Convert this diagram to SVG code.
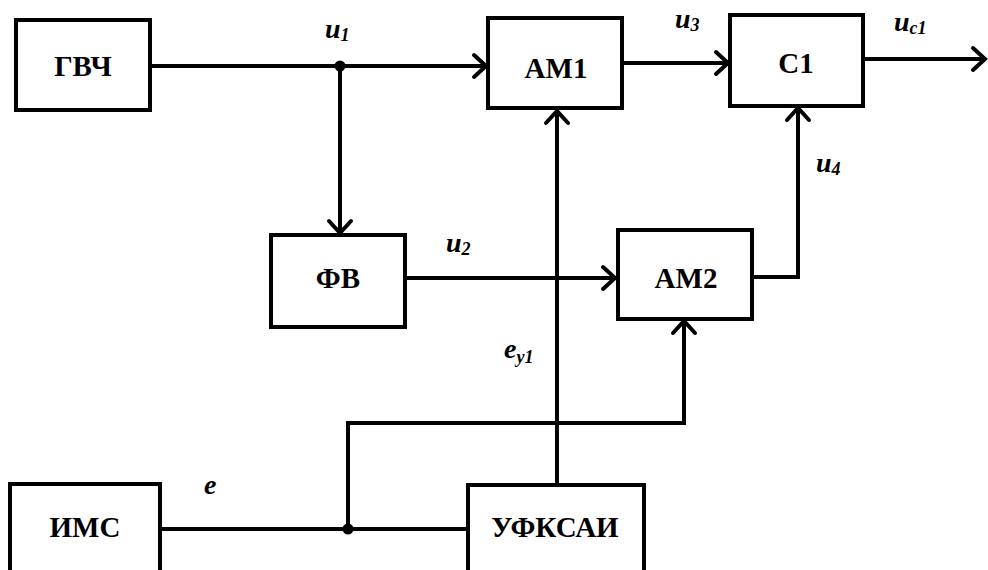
<svg xmlns="http://www.w3.org/2000/svg" width="988" height="570" viewBox="0 0 988 570">
<style>
.box{fill:#fff;stroke:#000;stroke-width:4}
.lbl{font-family:'Times New Roman','DejaVu Serif',serif;font-weight:bold;font-size:29px;text-anchor:middle;fill:#000}
.sig{font-family:'Times New Roman','DejaVu Serif',serif;font-weight:bold;font-style:italic;font-size:28px;fill:#000}
.sub{font-size:18px}
.ln{fill:none;stroke:#000;stroke-width:4}
</style>
<defs>
<marker id="arr" viewBox="-16 -13 18 26" refX="0" refY="0" markerWidth="18" markerHeight="26" markerUnits="userSpaceOnUse" orient="auto" overflow="visible">
<path d="M-12,-11 L0,0 L-12,11" fill="none" stroke="#000" stroke-width="4" stroke-linecap="round"/>
</marker>
</defs>
<g id="connectors">
<path class="ln" d="M150,66 H486" marker-end="url(#arr)"/>
<path class="ln" d="M340,66 V233" marker-end="url(#arr)"/>
<path class="ln" d="M622,63 H728" marker-end="url(#arr)"/>
<path class="ln" d="M863,59 H985" marker-end="url(#arr)"/>
<path class="ln" d="M405,278 H615" marker-end="url(#arr)"/>
<path class="ln" d="M751,277 H798 V108" marker-end="url(#arr)"/>
<path class="ln" d="M557,485 V111" marker-end="url(#arr)"/>
<path class="ln" d="M160,529 H468"/>
<path class="ln" d="M348,529 V423 H684 V321" marker-end="url(#arr)"/>
<circle cx="340" cy="66" r="5.5" fill="#000"/>
<circle cx="348" cy="529" r="5.5" fill="#000"/>
</g>
<g id="node-gvch"><rect class="box" x="16" y="20" width="134" height="90"/><text class="lbl" x="83" y="76">ГВЧ</text></g>
<g id="node-am1"><rect class="box" x="488" y="18" width="134" height="90"/><text class="lbl" x="556" y="78">АМ1</text></g>
<g id="node-c1"><rect class="box" x="730" y="15" width="133" height="91"/><text class="lbl" x="796" y="73">С1</text></g>
<g id="node-fv"><rect class="box" x="271" y="235" width="134" height="92"/><text class="lbl" x="338" y="288">ФВ</text></g>
<g id="node-am2"><rect class="box" x="618" y="230" width="134" height="89"/><text class="lbl" x="686" y="288">АМ2</text></g>
<g id="node-ims"><rect class="box" x="10" y="484" width="150" height="100"/><text class="lbl" x="85" y="537">ИМС</text></g>
<g id="node-ufksai"><rect class="box" x="468" y="485" width="176" height="100"/><text class="lbl" x="555" y="537">УФКСАИ</text></g>
<g id="labels">
<text class="sig" x="325" y="38">u<tspan class="sub" dy="3">1</tspan></text>
<text class="sig" x="675" y="28">u<tspan class="sub" dy="3">3</tspan></text>
<text class="sig" x="894" y="31">u<tspan class="sub" dy="3">c1</tspan></text>
<text class="sig" x="816" y="172">u<tspan class="sub" dy="3">4</tspan></text>
<text class="sig" x="446" y="252">u<tspan class="sub" dy="3">2</tspan></text>
<text class="sig" x="504" y="358">e<tspan class="sub" dy="5">y1</tspan></text>
<text class="sig" x="204" y="494">e</text>
</g>
</svg>
